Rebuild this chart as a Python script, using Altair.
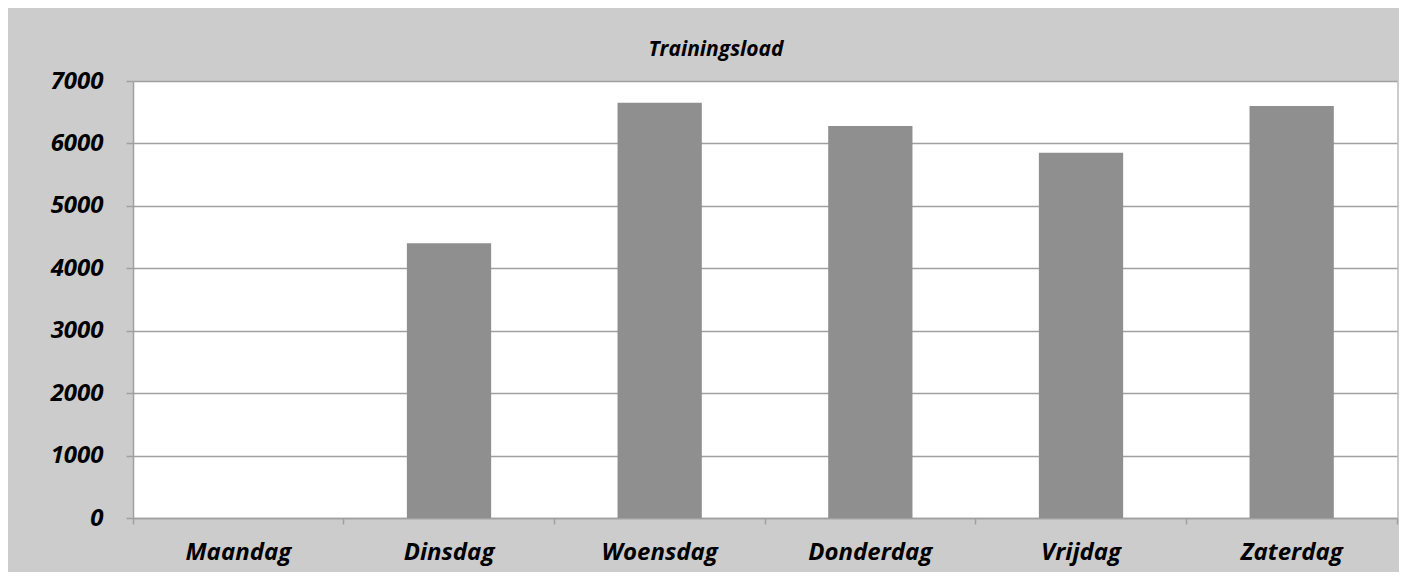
import altair as alt
import pandas as pd

days = ["Maandag", "Dinsdag", "Woensdag", "Donderdag", "Vrijdag", "Zaterdag"]
loads = [0, 4400, 6650, 6280, 5850, 6600]
y_ticks = [0, 1000, 2000, 3000, 4000, 5000, 6000, 7000]
title_text = "Trainingsload"

df = pd.DataFrame({"dag": days, "load": loads})

FONT = "Open Sans"
GRID = "#a0a0a0"

bars = alt.Chart(df).mark_bar(
    color="#8f8f8f", width=alt.RelativeBandSize(0.4)
).encode(
    x=alt.X("dag:N", sort=days, title=None,
            scale=alt.Scale(paddingInner=0, paddingOuter=0),
            axis=alt.Axis(labelAngle=0, bandPosition=1, tickExtra=True,
                          domainColor=GRID, domainWidth=1.5,
                          tickColor=GRID, tickWidth=1.5, tickSize=6,
                          labelFont=FONT, labelFontSize=24, labelFontWeight="bold",
                          labelFontStyle="italic", labelColor="black",
                          labelPadding=16, grid=False)),
    y=alt.Y("load:Q", title=None,
            scale=alt.Scale(domain=[0, 7000], nice=False),
            axis=alt.Axis(values=y_ticks,
                          format="d", grid=True, gridColor=GRID, gridWidth=1.5,
                          domainColor=GRID, domainWidth=1.5,
                          tickColor=GRID, tickWidth=1.5, tickSize=7,
                          labelFont=FONT, labelFontSize=24, labelFontWeight="bold",
                          labelFontStyle="italic", labelColor="black",
                          labelPadding=23)),
)

chart = bars.properties(
    width=1264, height=437,
    title=alt.TitleParams(title_text, font=FONT, fontSize=21, fontWeight="bold",
                          fontStyle="italic", color="black", anchor="middle",
                          dx=-49, offset=9),
    background="#cccccc",
    padding={"left": 125, "top": 73, "right": 2, "bottom": 54},
    autosize=alt.AutoSizeParams(type="none"),
).configure_view(fill="white", stroke=None)

chart.save("out.html", embed_options={"renderer": "svg", "actions": False})
